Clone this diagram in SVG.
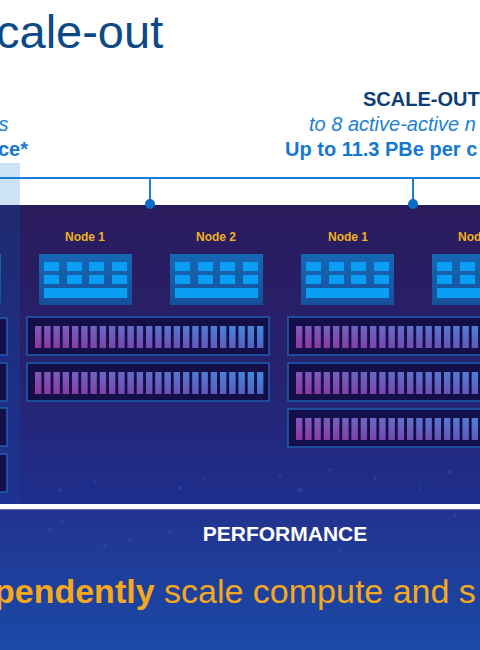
<svg xmlns="http://www.w3.org/2000/svg" xmlns:xlink="http://www.w3.org/1999/xlink" width="480" height="650" viewBox="0 0 480 650">
<style>
.f{font-family:"Liberation Sans",Arial,sans-serif}
.lbl{font-family:"Liberation Sans",Arial,sans-serif;font-size:12px;font-weight:bold;fill:#f0b020}
.srv{fill:url(#srvG)}
.cell{fill:#0a9ef5}
.encl{fill:#140f48;stroke:#1d5fb2;stroke-width:1.5}
.link{stroke:#1a7fd4;stroke-width:2;fill:none}
.dot{fill:#0a6cc4}
</style>
<defs>
<linearGradient id="panelG" x1="0" y1="0" x2="0" y2="1">
<stop offset="0" stop-color="#2a1b5c"/>
<stop offset="0.55" stop-color="#27226f"/>
<stop offset="1" stop-color="#1e2f8e"/>
</linearGradient>
<linearGradient id="leftG" x1="0" y1="0" x2="0" y2="1">
<stop offset="0" stop-color="#1f2a70"/>
<stop offset="1" stop-color="#1d3292"/>
</linearGradient>
<linearGradient id="botG" x1="0" y1="0" x2="0" y2="1">
<stop offset="0" stop-color="#22338e"/>
<stop offset="1" stop-color="#1b4aa8"/>
</linearGradient>
<linearGradient id="srvG" x1="0" y1="0" x2="0" y2="1">
<stop offset="0" stop-color="#1668b6"/>
<stop offset="1" stop-color="#15509a"/>
</linearGradient>
<linearGradient id="barH" x1="0" y1="0" x2="1" y2="0">
<stop offset="0" stop-color="#8a3aa0"/>
<stop offset="0.5" stop-color="#5a5cbc"/>
<stop offset="1" stop-color="#2a82d8"/>
</linearGradient>
<linearGradient id="barV" x1="0" y1="0" x2="0" y2="1">
<stop offset="0" stop-color="#6a9cf0" stop-opacity="0.3"/>
<stop offset="1" stop-color="#a02a9a" stop-opacity="0.35"/>
</linearGradient>
<path id="bars" d="M0 0h6.3v22h-6.3zM9.25 0h6.3v22h-6.3zM18.5 0h6.3v22h-6.3zM27.75 0h6.3v22h-6.3zM37 0h6.3v22h-6.3zM46.25 0h6.3v22h-6.3zM55.5 0h6.3v22h-6.3zM64.75 0h6.3v22h-6.3zM74 0h6.3v22h-6.3zM83.25 0h6.3v22h-6.3zM92.5 0h6.3v22h-6.3zM101.75 0h6.3v22h-6.3zM111 0h6.3v22h-6.3zM120.25 0h6.3v22h-6.3zM129.5 0h6.3v22h-6.3zM138.75 0h6.3v22h-6.3zM148 0h6.3v22h-6.3zM157.25 0h6.3v22h-6.3zM166.5 0h6.3v22h-6.3zM175.75 0h6.3v22h-6.3zM185 0h6.3v22h-6.3zM194.25 0h6.3v22h-6.3zM203.5 0h6.3v22h-6.3zM212.75 0h6.3v22h-6.3zM222 0h6.3v22h-6.3z"/>
<g id="enclosure">
<rect class="encl" x="0" y="0" width="242" height="38"/>
<use xlink:href="#bars" x="8" y="9" fill="url(#barH)"/>
<use xlink:href="#bars" x="8" y="9" fill="url(#barV)"/>
</g>
<g id="server">
<rect class="srv" x="0" y="0" width="93" height="51"/>
<rect class="cell" x="5" y="8" width="15" height="9"/>
<rect class="cell" x="28" y="8" width="15" height="9"/>
<rect class="cell" x="50" y="8" width="15" height="9"/>
<rect class="cell" x="73" y="8" width="15" height="9"/>
<rect class="cell" x="5" y="21" width="15" height="9"/>
<rect class="cell" x="28" y="21" width="15" height="9"/>
<rect class="cell" x="50" y="21" width="15" height="9"/>
<rect class="cell" x="73" y="21" width="15" height="9"/>
<rect class="cell" x="5" y="34" width="83" height="10"/>
</g>
</defs>

<!-- backgrounds -->
<rect x="0" y="0" width="480" height="650" fill="#ffffff"/>
<rect x="0" y="163" width="20" height="42" fill="#cde2f5"/>
<rect x="0" y="205" width="480" height="299" fill="url(#panelG)"/>
<rect x="0" y="205" width="20" height="299" fill="url(#leftG)"/>
<rect x="0" y="509" width="480" height="141" fill="url(#botG)"/>
<rect x="0" y="509" width="480" height="1" fill="#8a90d0" opacity="0.6"/>
<g fill="#4a8ae8" opacity="0.18">
<circle cx="60" cy="490" r="2"/><circle cx="95" cy="482" r="1.5"/><circle cx="180" cy="488" r="2"/><circle cx="205" cy="478" r="1.5"/><circle cx="280" cy="475" r="2"/><circle cx="300" cy="490" r="2.5"/><circle cx="330" cy="470" r="2"/><circle cx="375" cy="478" r="2"/><circle cx="420" cy="488" r="1.5"/><circle cx="450" cy="472" r="2"/>
<circle cx="50" cy="530" r="2"/><circle cx="62" cy="522" r="1.5"/><circle cx="105" cy="545" r="2"/><circle cx="130" cy="540" r="1.5"/><circle cx="170" cy="532" r="2"/><circle cx="340" cy="550" r="2"/><circle cx="455" cy="515" r="2"/>
</g>

<!-- title and headings -->
<text class="f" x="-4" y="48" font-size="47" fill="#0b4a87">cale-out</text>
<text class="f" x="363" y="106" font-size="20" font-weight="bold" fill="#0d3e78">SCALE-OUT</text>
<text class="f" x="309" y="131" font-size="20" font-style="italic" fill="#1a80d6">to 8 active-active n</text>
<text class="f" x="285" y="156" font-size="20" font-weight="bold" fill="#1578d0">Up to 11.3 PBe per c</text>
<text class="f" x="8.5" y="131" font-size="20" font-style="italic" fill="#1a80d6" text-anchor="end">s</text>
<text class="f" x="28" y="156" font-size="20" font-weight="bold" fill="#1578d0" text-anchor="end">ce*</text>

<!-- connectors -->
<g id="connectors">
<line class="link" x1="0" y1="178" x2="480" y2="178"/>
<line class="link" x1="150" y1="178" x2="150" y2="204" stroke-width="1.5"/>
<line class="link" x1="413" y1="178" x2="413" y2="204" stroke-width="1.5"/>
<circle class="dot" cx="150" cy="204" r="5"/>
<circle class="dot" cx="413" cy="204" r="5"/>
</g>

<!-- left partial cluster -->
<g id="left-cluster">
<use xlink:href="#server" x="-92" y="254"/>
<rect class="encl" x="-240" y="318" width="247" height="37"/>
<rect class="encl" x="-240" y="363" width="247" height="38"/>
<rect class="encl" x="-240" y="408" width="247" height="38"/>
<rect class="encl" x="-240" y="454" width="247" height="38"/>
</g>

<!-- cluster A -->
<g id="nodeA1">
<text class="lbl" x="85" y="241" text-anchor="middle">Node 1</text>
<use xlink:href="#server" x="39" y="254"/>
</g>
<g id="nodeA2">
<text class="lbl" x="216" y="241" text-anchor="middle">Node 2</text>
<use xlink:href="#server" x="170" y="254"/>
</g>
<g id="storageA1"><use xlink:href="#enclosure" x="27" y="317"/></g>
<g id="storageA2"><use xlink:href="#enclosure" x="27" y="363"/></g>

<!-- cluster B -->
<g id="nodeB1">
<text class="lbl" x="348" y="241" text-anchor="middle">Node 1</text>
<use xlink:href="#server" x="301" y="254"/>
</g>
<g id="nodeB2">
<text class="lbl" x="458" y="241">Nod</text>
<use xlink:href="#server" x="432" y="254"/>
</g>
<g id="storageB1"><use xlink:href="#enclosure" x="288" y="317"/></g>
<g id="storageB2"><use xlink:href="#enclosure" x="288" y="363"/></g>
<g id="storageB3"><use xlink:href="#enclosure" x="288" y="409"/></g>

<!-- bottom -->
<text class="f" x="285" y="541" font-size="21" font-weight="bold" fill="#ffffff" text-anchor="middle">PERFORMANCE</text>
<text class="f" x="-6" y="603" font-size="34" fill="#f5a81e"><tspan font-weight="bold">pendently</tspan> scale compute and s</text>
</svg>
